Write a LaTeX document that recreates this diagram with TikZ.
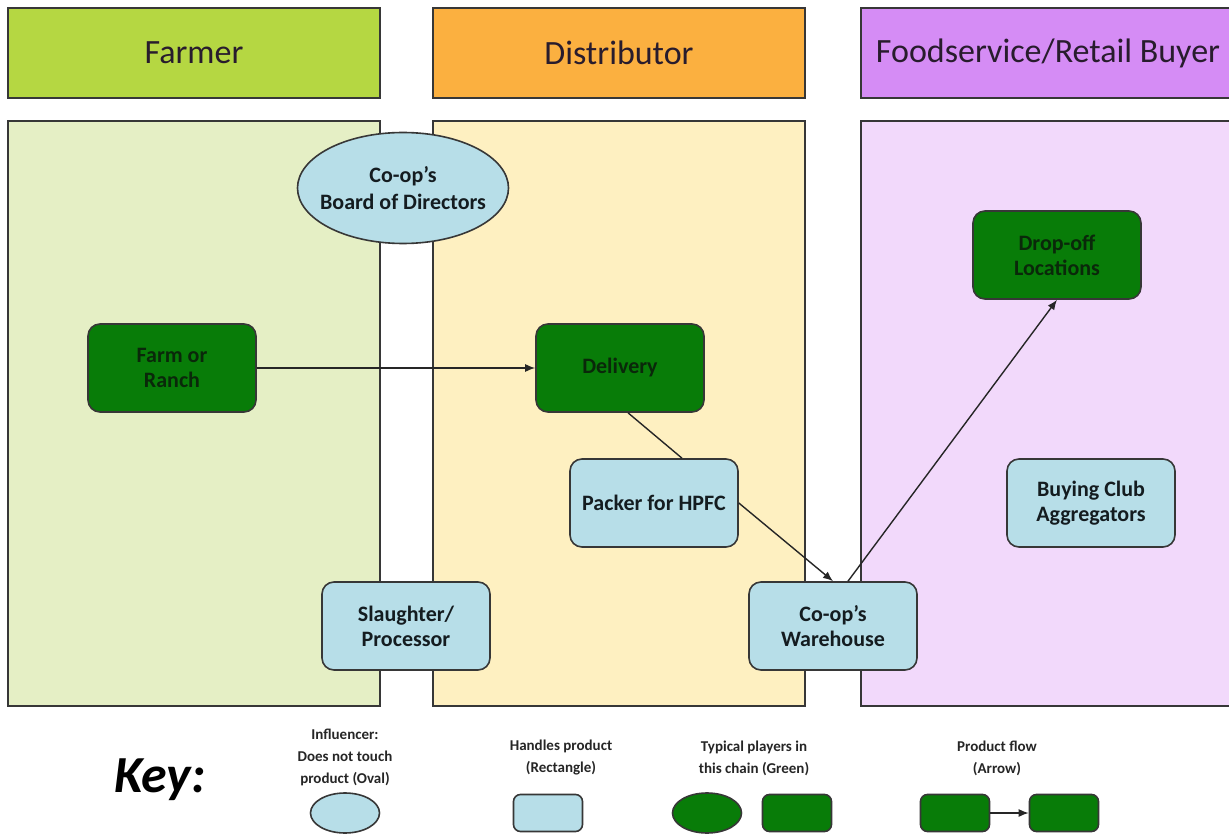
\documentclass[tikz,border=0pt]{standalone}
\usepackage{fontspec}
\setmainfont{Carlito}
\usetikzlibrary{shapes.geometric,arrows.meta}
\definecolor{bordc}{RGB}{55,55,55}
\definecolor{hdrgreen}{RGB}{181,215,66}
\definecolor{hdrorange}{RGB}{251,176,64}
\definecolor{hdrpurple}{RGB}{213,140,245}
\definecolor{pangreen}{RGB}{229,239,197}
\definecolor{panyellow}{RGB}{254,240,193}
\definecolor{panpurple}{RGB}{242,217,251}
\definecolor{nodeblue}{RGB}{183,222,232}
\definecolor{nodegreen}{RGB}{8,124,8}
\definecolor{hdrtext}{RGB}{40,28,45}
\definecolor{nodetext}{RGB}{20,28,32}
\definecolor{gnodetext}{RGB}{10,40,10}
\begin{document}
\begin{tikzpicture}[x=1pt,y=-1pt,
  hdrbox/.style={draw=bordc,line width=1.6pt},
  panelbox/.style={draw=bordc,line width=1.6pt},
  hdrtxt/.style={font=\fontsize{34}{40}\selectfont,text=hdrtext,inner sep=0pt},
  bluebox/.style={draw=bordc,fill=nodeblue,rounded corners=12pt,line width=1.6pt,
    minimum width=168pt,minimum height=88pt,inner sep=2pt,align=center,
    font=\fontsize{22}{25}\selectfont\bfseries,text=nodetext},
  greenbox/.style={bluebox,fill=nodegreen,text=gnodetext},
  ovalbox/.style={ellipse,draw=bordc,fill=nodeblue,line width=1.6pt,inner sep=0pt},
  ovaltxt/.style={align=center,font=\fontsize{22}{27}\selectfont\bfseries,text=nodetext,inner sep=0pt},
  flow/.style={draw=black!85,line width=1.4pt},
  flowarrow/.style={flow,-{Latex[length=10pt,width=8pt]}},
  keytxt/.style={align=center,font=\fontsize{15}{22}\selectfont\bfseries,text=black!85,inner sep=0pt},
  keyrect/.style={draw=bordc,line width=1.6pt,rounded corners=7pt,minimum width=69pt,minimum height=37pt,inner sep=0pt},
  keyoval/.style={ellipse,draw=bordc,line width=1.6pt,minimum width=69pt,minimum height=40pt,inner sep=0pt}
]
\useasboundingbox (0,0) rectangle (1229,834);
\clip (0,0) rectangle (1229,834);
\fill[white] (0,0) rectangle (1229,834);
% headers
\draw[hdrbox,fill=hdrgreen] (8,8) rectangle (380,98);
\draw[hdrbox,fill=hdrorange] (433,8) rectangle (805,98);
\draw[hdrbox,fill=hdrpurple] (861,8) rectangle (1240,98);
\node[hdrtxt] (hfarmer) at (194,53) {Farmer};
\node[hdrtxt] (hdist) at (619,53) {Distributor};
\node[hdrtxt] (hfood) at (1048,53) {Foodservice/Retail Buyer};
% panels
\draw[panelbox,fill=pangreen] (8,121) rectangle (380,706);
\draw[panelbox,fill=panyellow] (433,121) rectangle (805,706);
\draw[panelbox,fill=panpurple] (861,121) rectangle (1240,706);
% nodes
\node[ovalbox,minimum width=211pt,minimum height=111pt] (board) at (403,188) {};
\node[ovaltxt] (boardtxt) at (403,188) {Co-op’s\\Board of Directors};
\node[greenbox] (farm) at (172,368) {Farm or\\Ranch};
\node[greenbox] (deliv) at (620,368) {Delivery};
\node[bluebox] (packer) at (654,503) {Packer for HPFC};
\node[bluebox] (slaughter) at (406,626) {Slaughter/\\Processor};
\node[bluebox] (wh) at (833,626) {Co-op’s\\Warehouse};
\node[greenbox] (drop) at (1057,255) {Drop-off\\Locations};
\node[bluebox] (buying) at (1091,503) {Buying Club\\Aggregators};
% connectors
\draw[flowarrow] (farm.east) -- (deliv.west);
\draw[flow] ([xshift=8pt]deliv.south) -- ([xshift=28pt]packer.north);
\draw[flowarrow] (packer.east) -- (wh.north);
\draw[flowarrow] ([xshift=15pt]wh.north) -- (drop.south);
% key
\node[font=\fontsize{52}{60}\selectfont\bfseries\itshape,text=black,inner sep=0pt] (key) at (160,780) {Key:};
\node[keytxt] (k1) at (345,757) {Influencer:\\Does not touch\\product (Oval)};
\node[keytxt] (k2) at (561,758) {Handles product\\(Rectangle)};
\node[keytxt] (k3) at (754,758) {Typical players in\\this chain (Green)};
\node[keytxt] (k4) at (997,758) {Product flow\\(Arrow)};
\node[keyoval,fill=nodeblue] (ko1) at (345,813) {};
\node[keyrect,fill=nodeblue] (kr1) at (548,813) {};
\node[keyoval,fill=nodegreen] (ko2) at (707,813) {};
\node[keyrect,fill=nodegreen] (kr2) at (797,813) {};
\node[keyrect,fill=nodegreen] (kr3) at (955,813) {};
\node[keyrect,fill=nodegreen] (kr4) at (1064,813) {};
\draw[flowarrow] (kr3.east) -- (kr4.west);
\end{tikzpicture}
\end{document}
